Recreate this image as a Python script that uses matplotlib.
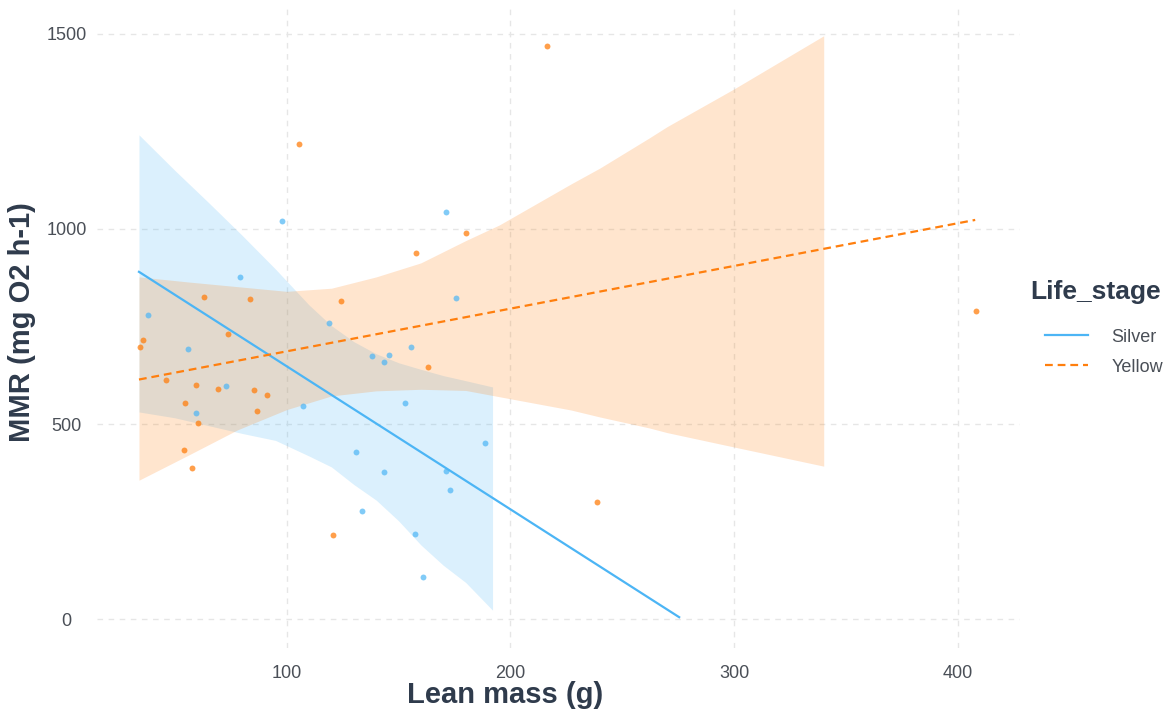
#!/usr/bin/env python3
# -*- coding: utf-8 -*-
"""MMR vs lean mass by life stage, with fitted lines and confidence ribbons."""
import matplotlib
matplotlib.use("Agg")
import matplotlib.pyplot as plt

plt.rcParams["font.family"] = ["Liberation Sans", "DejaVu Sans"]

# ---------------------------------------------------------------------------
# data
# ---------------------------------------------------------------------------
silver_mass = [79.1, 38, 55.9, 72.9, 59.5, 107.3, 97.9, 171.2, 175.7, 118.9, 155.6,
               138.1, 145.7, 143.5, 152.9, 188.6, 131, 143.5, 171.2, 173, 133.7,
               157.4, 160.9]
silver_mmr = [877, 779, 692, 597, 528, 546, 1021, 1044, 823, 759, 697,
              674, 677, 659, 554, 451, 428, 377, 379, 331, 277,
              218, 108]

yellow_mass = [63, 83.6, 35.8, 34.4, 73.8, 46, 59.5, 69.3, 85.4, 91.2, 54.5, 86.7,
               60.3, 54, 57.7, 180.2, 157.8, 124.3, 163.2, 120.7, 216.4, 238.7,
               408, 105.5]
yellow_mmr = [826, 821, 715, 697, 731, 613, 600, 590, 587, 574, 554, 533,
              503, 433, 387, 990, 938, 815, 646, 215, 1469, 300,
              790, 1218]

# fitted lines (end points)
silver_fit_x = [34, 275.4]
silver_fit_y = [890, 5]
yellow_fit_x = [34, 407.7]
yellow_fit_y = [614, 1023]

# confidence ribbons
silver_band_x = [34, 50, 65, 80, 95, 110, 120, 130, 140, 150, 160, 170, 180, 192]
silver_band_lo = [531, 516, 496, 476, 458, 418, 390, 345, 305, 252, 190, 138, 94, 23]
silver_band_hi = [1241, 1150, 1068, 984, 897, 805, 752, 711, 680, 657, 640, 624, 611, 595]

yellow_band_x = [34, 56, 78, 100, 120, 140, 160, 180, 195, 227, 240, 262, 270, 300, 340]
yellow_band_lo = [356, 420, 485, 537, 572, 585, 589, 586, 570, 536, 518, 490, 478, 441, 392]
yellow_band_hi = [877, 864, 852, 840, 848, 877, 913, 970, 1010, 1115, 1156, 1233, 1262, 1359, 1495]

SILVER = "#4CB5F5"
YELLOW = "#FF7F0E"
INK = "#2f3b4c"
TICK = "#4a4f57"

fig = plt.figure(figsize=(11.76, 7.11), dpi=100)
ax = fig.add_axes([0.0825, 0.0886, 0.7849, 0.9001])

ax.fill_between(silver_band_x, silver_band_lo, silver_band_hi, color=SILVER,
                alpha=0.2, lw=0, zorder=1)
ax.fill_between(yellow_band_x, yellow_band_lo, yellow_band_hi, color=YELLOW,
                alpha=0.2, lw=0, zorder=1)

ax.scatter(silver_mass, silver_mmr, s=18, color=SILVER, alpha=0.7, lw=0, zorder=2)
ax.scatter(yellow_mass, yellow_mmr, s=18, color=YELLOW, alpha=0.75, lw=0, zorder=2)

ax.plot(silver_fit_x, silver_fit_y, "-", color=SILVER, lw=1.6, label="Silver", zorder=3)
ax.plot(yellow_fit_x, yellow_fit_y, "--", color=YELLOW, lw=1.6, dashes=(3.5, 2.2),
        label="Yellow", zorder=3)

ax.set_xlim(15.25, 427.75)
ax.set_ylim(-74, 1566)
ax.set_xticks([100, 200, 300, 400])
ax.set_yticks([0, 500, 1000, 1500])
ax.grid(True, color="#e6e6e6", lw=1, ls=(0, (4, 4)))
ax.set_axisbelow(True)
for s in ax.spines.values():
    s.set_visible(False)
ax.tick_params(length=0, labelsize=13, labelcolor=TICK)
ax.tick_params(axis="y", pad=22)
ax.tick_params(axis="x", pad=12)
for lab in ax.get_yticklabels():
    lab.set_ha("center")

ax.set_xlabel("Lean mass (g)", fontsize=21, fontweight="bold", color=INK)
ax.xaxis.set_label_coords(0.442, -0.052)
ax.set_ylabel("MMR (mg O2 h-1)", fontsize=21, fontweight="bold", color=INK, va="center")
ax.yaxis.set_label_coords(-0.081, 0.509)

fig.text(1030 / 1176, 1 - 292 / 711, "Life_stage", fontsize=19, fontweight="bold",
         color=INK, ha="left", va="center")
leg = fig.legend(loc="center left", bbox_to_anchor=(1045 / 1176, 1 - 352 / 711),
                 frameon=False, fontsize=13, handlelength=2.4, handletextpad=1.28,
                 labelspacing=0.72, borderpad=0, borderaxespad=0)
for t in leg.get_texts():
    t.set_color(TICK)

fig.savefig("out.png", dpi=100)
